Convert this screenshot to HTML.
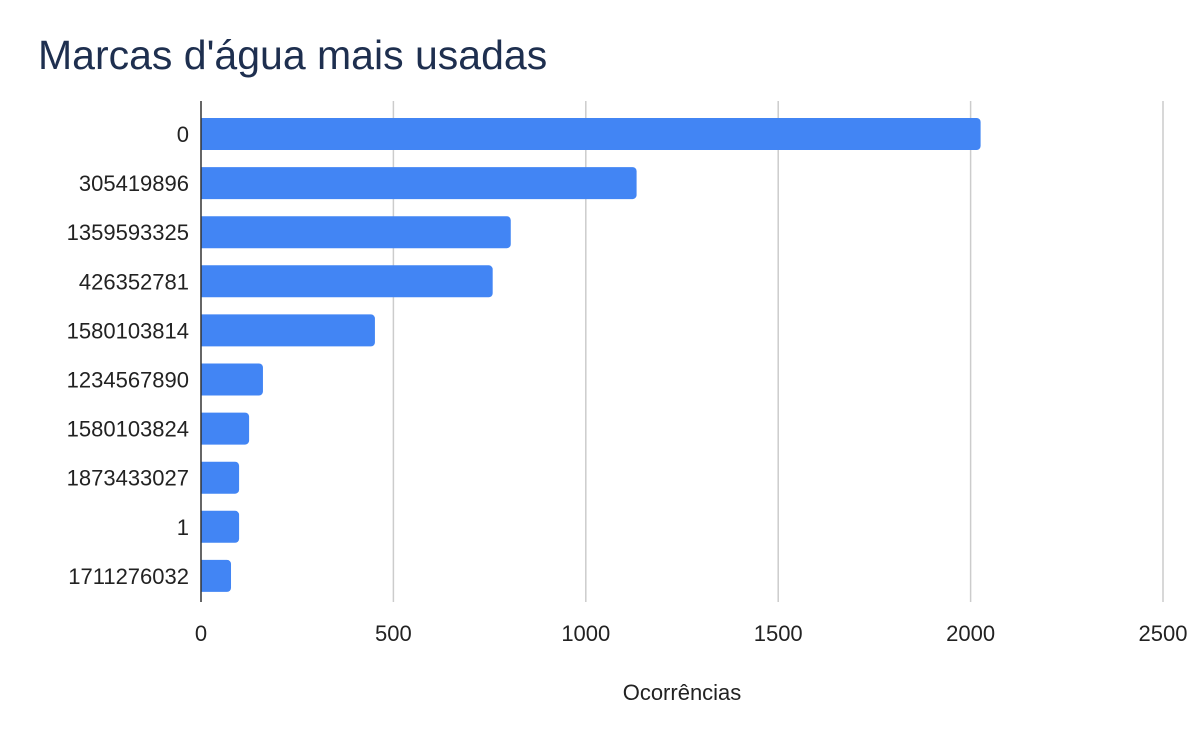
<!DOCTYPE html>
<html><head><meta charset="utf-8"><style>
body{margin:0;background:#fff;}
svg text{font-family:"Liberation Sans",sans-serif;}
</style></head><body>
<svg width="1200" height="742">
<text x="38" y="69" font-size="41" fill="#1e2f4f">Marcas d'água mais usadas</text>
<g id="grid"></g>
<g id="bars"></g>
<g id="ylabels"></g>
<g id="xlabels"></g>
<line x1="201" y1="101" x2="201" y2="602" stroke="#333" stroke-width="1.5"/>
<text x="682" y="700" font-size="22" text-anchor="middle" fill="#222">Ocorrências</text>
</svg>
<script>
const categories=["0","305419896","1359593325","426352781","1580103814","1234567890","1580103824","1873433027","1","1711276032"];
const values=[2026,1132,805,758,452,161,125,99,99,78];
const ticks=[0,500,1000,1500,2000,2500];
const NS="http://www.w3.org/2000/svg";
const x0=201,pxPer=(1163-201)/2500,plotTop=101,step=49.1,barH=32;
const xs=v=>x0+v*pxPer;
const g=document.getElementById('grid'),b=document.getElementById('bars'),yl=document.getElementById('ylabels'),xl=document.getElementById('xlabels');
ticks.forEach(t=>{
 if(t>0){const l=document.createElementNS(NS,'line');
 l.setAttribute('x1',xs(t));l.setAttribute('x2',xs(t));l.setAttribute('y1',plotTop);l.setAttribute('y2',602);
 l.setAttribute('stroke','#ccc');l.setAttribute('stroke-width','1.5');
 
 
 g.appendChild(l);}
 const tx=document.createElementNS(NS,'text');
 tx.setAttribute('x',xs(t));tx.setAttribute('y',641);tx.setAttribute('font-size','22');tx.setAttribute('text-anchor','middle');tx.setAttribute('fill','#222');
 tx.textContent=t;
 
 
 xl.appendChild(tx);
});
categories.forEach((c,i)=>{
 const cy=plotTop+33+i*step;
 const w=xs(values[i])-x0,r=4;
 const p=document.createElementNS(NS,'path');
 p.setAttribute('d',`M${x0},${cy-barH/2}h${w-r}a${r},${r} 0 0 1 ${r},${r}v${barH-2*r}a${r},${r} 0 0 1 -${r},${r}h-${w-r}z`);
 p.setAttribute('fill','#4285f4');
 
 
 b.appendChild(p);
 const tx=document.createElementNS(NS,'text');
 tx.setAttribute('x',189);tx.setAttribute('y',cy+8);tx.setAttribute('font-size','22');tx.setAttribute('text-anchor','end');tx.setAttribute('fill','#222');
 tx.textContent=c;
 
 
 yl.appendChild(tx);
});
</script>
</body></html>
